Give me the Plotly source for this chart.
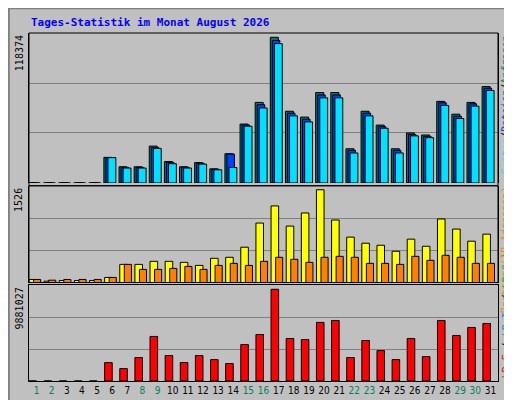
import plotly.graph_objects as go

days = list(range(1, 32))
weekend = {1, 2, 8, 9, 15, 16, 22, 23, 29, 30}
anfragen = [0,0,0,0,0,20200,12800,12800,29100,16900,12800,16100,11200,23100,46500,63600,115000,56600,52000,71400,71400,27000,56600,45700,27000,39500,37900,64400,54300,63600,76100]
dateien  = [0,0,0,0,0,20000,12300,12300,28000,16200,12400,15500,10800,22800,45800,61800,112500,55100,50300,69500,69500,25800,55100,44500,25800,38200,36800,63300,52700,62500,74800]
seiten   = [0,0,0,0,0,20000,11800,11800,27300,15200,11800,14900,10400,12200,44800,59200,110000,53000,48200,67200,67200,23700,53000,43200,23700,37200,35800,61200,50900,60700,73000]
besuche  = [48,21,32,32,32,80,286,286,334,334,318,270,382,398,557,938,1208,890,1097,1463,986,716,620,588,493,684,572,1002,843,652,763]
rechner  = [48,37,48,48,48,80,286,207,207,223,254,207,270,302,270,334,398,366,318,398,413,398,302,302,286,413,350,429,398,302,302]
kbytes   = [0,0,0,0,0,1900000,1280000,2420000,4600000,2630000,1900000,2630000,2210000,1800000,3770000,4800000,9470000,4390000,4280000,6050000,6250000,2420000,4180000,3140000,2210000,4390000,2520000,6250000,4700000,5530000,5940000]
max1, max2, max3 = 118374, 1526, 9881027

fig = go.Figure()
line = dict(color="black", width=1)
def bars(y, color, off, w, ax):
    fig.add_trace(go.Bar(x=days, y=y, marker=dict(color=color, line=line), offset=off, width=w,
                         xaxis="x", yaxis=ax, showlegend=False, hoverinfo="skip"))
bars(anfragen, "#00805c", -0.55, 0.53, "y")
bars(dateien, "#0040ff", -0.42, 0.5, "y")
bars(seiten, "#00e0ff", -0.28, 0.52, "y")
bars(besuche, "#ffff00", -0.5, 0.5, "y2")
bars(rechner, "#ff8000", -0.2, 0.47, "y2")
bars(kbytes, "#ff0000", -0.5, 0.5, "y3")

ticktext = [f'<span style="color:{"#00805c" if d in weekend else "black"}">{d}</span>' for d in days]
yax = dict(showticklabels=False, showgrid=True, gridcolor="#808080", gridwidth=1, zeroline=False,
           showline=True, mirror=True, linecolor="black", linewidth=1, ticks="")
fig.update_layout(
    width=512, height=400, margin=dict(l=21, r=22, t=25, b=22),
    paper_bgcolor="#c0c0c0", plot_bgcolor="#c0c0c0", barmode="overlay",
    font=dict(family="DejaVu Sans Mono", size=11, color="black"),
    xaxis=dict(range=[0.5, 31.5], tickvals=days, ticktext=ticktext, showline=True, mirror=True,
               linecolor="black", ticks="", anchor="y3", showgrid=False,
               tickfont=dict(size=10, family="DejaVu Sans Condensed")),
    yaxis=dict(domain=[0.569, 1], range=[0, max1], dtick=max1/3, **yax),
    yaxis2=dict(domain=[0.283, 0.561], range=[0, max2], dtick=max2/3, **yax),
    yaxis3=dict(domain=[0, 0.275], range=[0, max3], dtick=max3/3, **yax),
)
anns = [
    dict(text="<b>Tages-Statistik im Monat August 2026</b>", x=0.0, y=1.03, xanchor="left", yanchor="middle",
         font=dict(color="#0000ff", size=11, family="DejaVu Sans Mono")),
    dict(text=str(max1), x=-0.005, y=1.0, xanchor="right", yanchor="top", textangle=-90),
    dict(text=str(max2), x=-0.005, y=0.561, xanchor="right", yanchor="top", textangle=-90),
    dict(text=str(max3), x=-0.005, y=0.275, xanchor="right", yanchor="top", textangle=-90),
    dict(text='<span style="color:#00e0ff">Seiten</span>/<span style="color:#0040ff">Dateien</span>/<span style="color:#00805c">Anfragen</span>',
         x=1.0, y=1.0, xanchor="left", yanchor="top", textangle=-90),
    dict(text='<span style="color:#ff8000">Rechner (IP-Adressen)</span>',
         x=1.0, y=0.561, xanchor="left", yanchor="top", textangle=-90),
    dict(text='<span style="color:#ff0000">kB F</span> / <span style="color:#0080ff">kB In</span> / <span style="color:#00c000">kB Out</span>',
         x=1.0, y=0.0, xanchor="left", yanchor="bottom", textangle=-90),
]
for a in anns:
    a.update(xref="paper", yref="paper", showarrow=False)
    a.setdefault("font", dict(size=10))
fig.layout.annotations = anns
fig.update_layout(shapes=[
    dict(type="rect", xref="paper", yref="paper", x0=-0.043, x1=1.045, y0=-0.062, y1=1.071,
         line=dict(color="#808080", width=2)),
    dict(type="rect", xref="paper", yref="paper", x0=0, x1=1, y0=0.561, y1=1, line=dict(color="black", width=1)),
    dict(type="rect", xref="paper", yref="paper", x0=0, x1=1, y0=0.283, y1=0.561, line=dict(color="black", width=1)),
])
fig.write_html("out.html")
